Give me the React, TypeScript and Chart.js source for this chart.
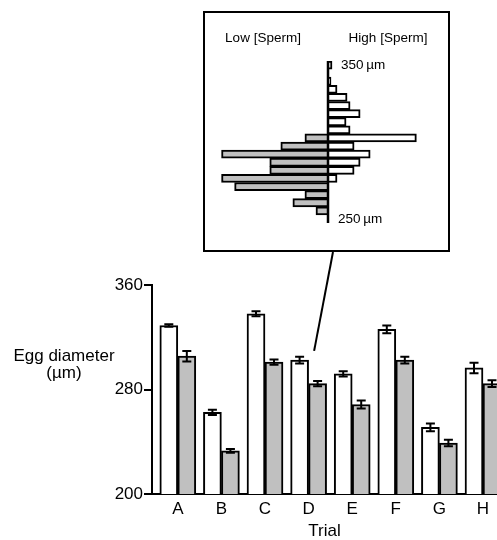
import React, { useEffect, useRef } from 'react';
import { Chart, registerables } from 'chart.js';

Chart.register(...registerables);

// ---- Main chart data ----
const trials = ['A', 'B', 'C', 'D', 'E', 'F', 'G', 'H'];
const highSperm = [329, 262.5, 338, 302.5, 292, 326, 251, 296.5];
const highSpermErr = [1, 2, 2, 2.5, 2, 3, 3, 4];
const lowSperm = [305.5, 233, 301, 284.5, 268.5, 302.5, 239, 284.5];
const lowSpermErr = [4, 1.5, 2, 2, 3, 2.5, 2.5, 2.5];
const yTickValues = [200, 280, 360];

// ---- Inset histogram (trial D), 5 µm bins from 350 down to 255 ----
const binLabels = [350, 345, 340, 335, 330, 325, 320, 315, 310, 305, 300, 295, 290, 285, 280, 275, 270, 265, 260, 255];
const histHigh = [4, 0, 3, 9, 19, 22, 32, 18, 22, 88, 26, 42, 32, 26, 9, 0, 0, 0, 0, 0];
const histLow = [0, 0, 0, 0, 0, 0, 0, 0, 0, 23, 47, 106, 58, 58, 106, 93, 23, 35, 12, 0];

const FONT = "'Liberation Sans', Arial, Helvetica, sans-serif";
const GRAY = '#c0c0c0';

export default function App() {
  const mainRef = useRef<HTMLCanvasElement | null>(null);
  const insetRef = useRef<HTMLCanvasElement | null>(null);

  useEffect(() => {
    if (!mainRef.current || !insetRef.current) return;

    const errorBars = {
      id: 'errorBars',
      afterDatasetsDraw(chart: any) {
        const ctx = chart.ctx;
        const y = chart.scales.y;
        const errs = [highSpermErr, lowSpermErr];
        const vals = [highSperm, lowSperm];
        ctx.save();
        ctx.beginPath();
        ctx.rect(chart.chartArea.left, 0, chart.chartArea.right - chart.chartArea.left, chart.height);
        ctx.clip();
        ctx.strokeStyle = '#000';
        ctx.lineWidth = 2;
        for (let d = 0; d < 2; d++) {
          const meta = chart.getDatasetMeta(d);
          meta.data.forEach((el: any, i: number) => {
            const yt = y.getPixelForValue(vals[d][i] + errs[d][i]);
            const yb = y.getPixelForValue(vals[d][i] - errs[d][i]);
            const x = el.x;
            ctx.beginPath();
            ctx.moveTo(x, yt);
            ctx.lineTo(x, yb);
            ctx.moveTo(x - 4.5, yt);
            ctx.lineTo(x + 4.5, yt);
            ctx.moveTo(x - 4.5, yb);
            ctx.lineTo(x + 4.5, yb);
            ctx.stroke();
          });
        }
        ctx.restore();
      },
      afterDraw(chart: any) {
        const ctx = chart.ctx;
        const x = chart.scales.x;
        const y = chart.scales.y;
        ctx.save();
        // y-axis title (horizontal, two lines)
        ctx.fillStyle = '#000';
        ctx.font = `17px ${FONT}`;
        ctx.textAlign = 'center';
        ctx.textBaseline = 'alphabetic';
        ctx.fillText('Egg diameter', 64, 361);
        ctx.fillText('(\u00b5m)', 64, 378);
        // connector line from inset box to trial D
        ctx.strokeStyle = '#000';
        ctx.lineWidth = 2;
        ctx.beginPath();
        ctx.moveTo(333, 252);
        ctx.lineTo(x.getPixelForValue(3) + 5.5, y.getPixelForValue(highSperm[3] + highSpermErr[3]) - 6);
        ctx.stroke();
        ctx.restore();
      },
    };

    const main = new Chart(mainRef.current, {
      type: 'bar',
      data: {
        datasets: [
          {
            label: 'High [Sperm]',
            data: highSperm.map((v, i) => ({ x: i, y: v })),
            backgroundColor: '#ffffff',
            borderColor: '#000000',
            borderWidth: 2,
            barThickness: 18,
          },
          {
            label: 'Low [Sperm]',
            data: lowSperm.map((v, i) => ({ x: i, y: v })),
            backgroundColor: GRAY,
            borderColor: '#000000',
            borderWidth: 2,
            barThickness: 18,
          },
        ],
      },
      options: {
        responsive: false,
        animation: false,
        font: { family: FONT },
        layout: { padding: { top: 285, left: 0, right: 0, bottom: 0 } },
        plugins: { legend: { display: false }, tooltip: { enabled: false } },
        scales: {
          x: {
            type: 'linear',
            offset: false,
            min: -0.592,
            max: 7.321,
            afterBuildTicks: (s: any) => {
              s.ticks = trials.map((_, i) => ({ value: i }));
            },
            afterFit: (s: any) => {
              s.height = 46;
            },
            grid: { display: true, offset: false, drawOnChartArea: false, drawTicks: false },
            border: { display: true, color: '#000', width: 2 },
            ticks: {
              color: '#000',
              font: { family: FONT, size: 17 },
              padding: 5,
              autoSkip: false,
              maxRotation: 0,
              callback: (v: any) => trials[v] ?? '',
            },
            title: {
              display: true,
              text: 'Trial',
              color: '#000',
              font: { family: FONT, size: 17, lineHeight: 1 },
              padding: { top: 0, bottom: 0 },
            },
          },
          y: {
            min: 200,
            max: 360,
            afterBuildTicks: (s: any) => {
              s.ticks = yTickValues.map((v) => ({ value: v }));
            },
            afterFit: (s: any) => {
              s.width = 152;
            },
            grid: { display: true, drawOnChartArea: false, drawTicks: true, tickLength: 8, color: '#000', lineWidth: 2 },
            border: { display: true, color: '#000', width: 2 },
            ticks: {
              color: '#000',
              font: { family: FONT, size: 17 },
              padding: 1,
            },
          },
        },
      } as any,
      plugins: [errorBars],
    });

    const insetDeco = {
      id: 'insetDeco',
      afterDatasetsDraw(chart: any) {
        const ctx = chart.ctx;
        const x = chart.scales.x;
        const y = chart.scales.y;
        const x0 = x.getPixelForValue(0);
        ctx.save();
        ctx.strokeStyle = '#000';
        ctx.lineWidth = 2.5;
        ctx.beginPath();
        ctx.moveTo(x0, chart.chartArea.top);
        ctx.lineTo(x0, chart.chartArea.bottom);
        ctx.stroke();
        ctx.fillStyle = '#000';
        ctx.font = `13.5px ${FONT}`;
        ctx.textBaseline = 'middle';
        ctx.textAlign = 'left';
        ctx.fillText('350\u2009\u00b5m', x0 + 13, y.getPixelForValue(0));
        ctx.fillText('250\u2009\u00b5m', x0 + 10, y.getPixelForValue(binLabels.length - 1));
        ctx.textAlign = 'center';
        ctx.fillText('Low [Sperm]', 58, 25);
        ctx.fillText('High [Sperm]', 183, 25);
        ctx.restore();
      },
    };

    const inset = new Chart(insetRef.current, {
      type: 'bar',
      data: {
        labels: binLabels.map(String),
        datasets: [
          {
            label: 'Low [Sperm]',
            data: histLow.map((v) => (v === 0 ? null : -v)),
            backgroundColor: GRAY,
            borderColor: '#000',
            borderWidth: 2,
            categoryPercentage: 1,
            barPercentage: 1,
          },
          {
            label: 'High [Sperm]',
            data: histHigh.map((v) => (v === 0 ? null : v)),
            backgroundColor: '#ffffff',
            borderColor: '#000',
            borderWidth: 2,
            categoryPercentage: 1,
            barPercentage: 1,
          },
        ],
      },
      options: {
        indexAxis: 'y',
        responsive: false,
        animation: false,
        layout: { padding: { top: 48, bottom: 27, left: 10, right: 10 } },
        plugins: { legend: { display: false }, tooltip: { enabled: false } },
        scales: {
          x: { display: false, stacked: true, min: -112.5, max: 109.5 },
          y: { display: false, stacked: true },
        },
      } as any,
      plugins: [insetDeco],
    });

    return () => {
      main.destroy();
      inset.destroy();
    };
  }, []);

  return (
    <div style={{ position: 'absolute', left: 0, top: 0, width: 497, height: 540, background: '#fff', overflow: 'hidden' }}>
      <canvas ref={mainRef} width={497} height={540} style={{ position: 'absolute', left: 0, top: 0, display: 'block' }} />
      <div
        style={{
          position: 'absolute',
          left: 203,
          top: 11,
          width: 247,
          height: 241,
          boxSizing: 'border-box',
          border: '2px solid #000',
          background: '#fff',
        }}
      >
        <canvas ref={insetRef} width={243} height={237} style={{ display: 'block' }} />
      </div>
    </div>
  );
}
